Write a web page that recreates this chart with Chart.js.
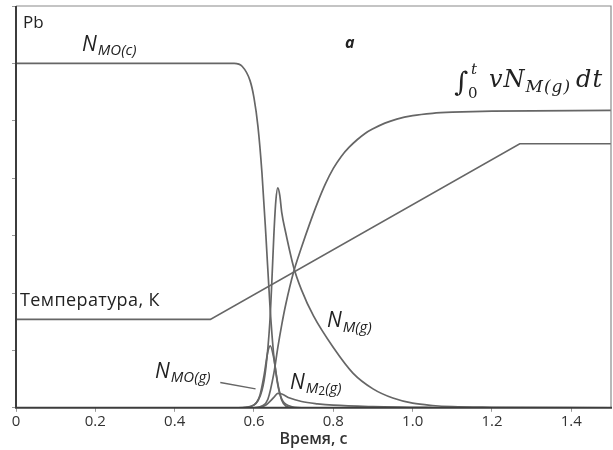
<!DOCTYPE html>
<html>
<head>
<meta charset="utf-8">
<script src="https://cdn.jsdelivr.net/npm/chart.js@4"></script>
<style>
  html, body { margin: 0; padding: 0; background: #fff; }
  canvas { display: block; }
</style>
</head>
<body>
<canvas id="pbChart" width="613" height="450"></canvas>
<script>
// values (time in s, y in arbitrary units)
const moCondT   = [0, 0.50, 0.55, 0.57, 0.59, 0.60, 0.61, 0.62, 0.63, 0.64, 0.65, 0.66, 0.67, 0.69, 0.72, 1.5];
const moCondY   = [6.0, 6.0, 6.0, 5.95, 5.7, 5.4, 4.9, 4.1, 3.0, 1.8, 0.9, 0.4, 0.15, 0.03, 0, 0];

const mGasT     = [0, 0.56, 0.60, 0.62, 0.63, 0.64, 0.645, 0.65, 0.655, 0.66, 0.665, 0.67, 0.68, 0.70, 0.72, 0.75, 0.80, 0.85, 0.90, 0.95, 1.0, 1.05, 1.1, 1.2, 1.5];
const mGasY     = [0, 0, 0.05, 0.3, 0.7, 1.5, 2.2, 3.0, 3.6, 3.83, 3.7, 3.4, 3.05, 2.45, 2.05, 1.6, 1.05, 0.6, 0.33, 0.17, 0.08, 0.04, 0.02, 0.01, 0];

const moGasT    = [0, 0.57, 0.60, 0.615, 0.625, 0.635, 0.641, 0.65, 0.66, 0.67, 0.68, 0.70, 1.5];
const moGasY    = [0, 0, 0.05, 0.22, 0.55, 0.98, 1.08, 0.86, 0.42, 0.13, 0.03, 0, 0];

const m2GasT    = [0, 0.60, 0.63, 0.65, 0.66, 0.67, 0.69, 0.72, 0.76, 0.80, 0.90, 1.0, 1.1, 1.5];
const m2GasY    = [0, 0, 0.05, 0.18, 0.25, 0.24, 0.17, 0.11, 0.07, 0.045, 0.02, 0.01, 0, 0];

const integralT = [0, 0.60, 0.62, 0.635, 0.65, 0.66, 0.67, 0.68, 0.70, 0.72, 0.74, 0.76, 0.78, 0.80, 0.82, 0.84, 0.86, 0.88, 0.90, 0.93, 0.96, 1.0, 1.05, 1.1, 1.2, 1.5];
const integralY = [0, 0, 0.03, 0.15, 0.6, 1.05, 1.45, 1.8, 2.37, 2.8, 3.2, 3.57, 3.9, 4.17, 4.38, 4.54, 4.67, 4.78, 4.86, 4.96, 5.03, 5.09, 5.13, 5.15, 5.17, 5.18];

const tempT     = [0, 0.49, 1.27, 1.5];
const tempY     = [1.54, 1.54, 4.6, 4.6];

// pointer from the N_MO(g) label to its curve
const leaderT   = [0.515, 0.604];
const leaderY   = [0.44, 0.33];

const xTicks = [0, 0.2, 0.4, 0.6, 0.8, 1.0, 1.2, 1.4];

const lineColor = '#666666';

function pts(xs, ys) {
  return xs.map((x, i) => ({ x: x, y: ys[i] }));
}

function series(xs, ys, smooth) {
  return {
    data: pts(xs, ys),
    borderColor: lineColor,
    borderWidth: 1.7,
    pointRadius: 0,
    fill: false,
    tension: 0,
    cubicInterpolationMode: smooth ? 'monotone' : 'default'
  };
}

// draws text pieces one after another: [text, font, dy, gap]
function drawRun(ctx, x, y, parts) {
  ctx.textBaseline = 'alphabetic';
  ctx.textAlign = 'left';
  parts.forEach(p => {
    ctx.font = p[1];
    ctx.fillText(p[0], x, y + (p[2] || 0));
    x += ctx.measureText(p[0]).width + (p[3] || 0);
  });
}

const labelsPlugin = {
  id: 'labelsPlugin',
  afterDatasetsDraw(chart) {
    const ctx = chart.ctx;
    const a = chart.chartArea;
    const xs = chart.scales.x, ys = chart.scales.y;
    ctx.save();

    // frame
    ctx.strokeStyle = '#8a8a8a';
    ctx.lineWidth = 1.2;
    ctx.beginPath();
    ctx.moveTo(a.left, a.top);
    ctx.lineTo(a.right, a.top);
    ctx.lineTo(a.right, a.bottom);
    ctx.stroke();
    ctx.strokeStyle = '#3c3c3c';
    ctx.lineWidth = 2;
    ctx.beginPath();
    ctx.moveTo(a.left, a.top);
    ctx.lineTo(a.left, a.bottom);
    ctx.lineTo(a.right + 1, a.bottom);
    ctx.stroke();

    // leader line
    ctx.strokeStyle = lineColor;
    ctx.lineWidth = 1.4;
    ctx.beginPath();
    ctx.moveTo(xs.getPixelForValue(leaderT[0]), ys.getPixelForValue(leaderY[0]));
    ctx.lineTo(xs.getPixelForValue(leaderT[1]), ys.getPixelForValue(leaderY[1]));
    ctx.stroke();

    ctx.fillStyle = '#222';
    const sans = '"Open Sans", "Liberation Sans", sans-serif';
    const big = 'italic 21px ' + sans;
    const sub = 'italic 15px ' + sans;

    drawRun(ctx, 23, 28, [['Pb', '17px ' + sans]]);
    drawRun(ctx, 345, 48, [['a', 'bold italic 16px ' + sans]]);
    drawRun(ctx, 82, 51, [['N', big, 0, 1], ['MO(c)', sub, 4]]);
    ctx.letterSpacing = '0.4px';
    drawRun(ctx, 20, 306, [['Температура, К', '18px ' + sans]]);
    ctx.letterSpacing = '0px';
    drawRun(ctx, 327, 327, [['N', big, 0, 1], ['M(g)', sub, 5]]);
    drawRun(ctx, 155, 378, [['N', big, 0, 1], ['MO(g)', sub, 4]]);
    drawRun(ctx, 290, 389, [['N', big, 0, 1], ['M', sub, 4], ['2', '12px ' + sans, 6], ['(g)', sub, 4]]);

    // integral label
    const serif = '"DejaVu Serif", "Liberation Serif", serif';
    ctx.font = '27px ' + serif;
    ctx.fillText('∫', 454, 91);
    ctx.font = 'italic 15px ' + serif;
    ctx.fillText('t', 471, 74);
    ctx.font = '15px ' + serif;
    ctx.fillText('0', 468, 98);
    ctx.letterSpacing = '1px';
    drawRun(ctx, 489, 87, [['vN', 'italic 24px ' + serif, 0, 0], ['M(g)', 'italic 17px ' + serif, 5, 5], ['dt', 'italic 24px ' + serif]]);
    ctx.letterSpacing = '0px';

    ctx.restore();
  }
};

const ctx = document.getElementById('pbChart').getContext('2d');

new Chart(ctx, {
  type: 'line',
  data: {
    datasets: [
      series(moCondT, moCondY, true),
      series(mGasT, mGasY, true),
      series(moGasT, moGasY, true),
      series(m2GasT, m2GasY, true),
      series(integralT, integralY, true),
      series(tempT, tempY, false)
    ]
  },
  options: {
    responsive: false,
    animation: false,
    layout: { padding: { left: 12, right: 2, top: 6, bottom: 0 } },
    plugins: {
      legend: { display: false },
      tooltip: { enabled: false },
      title: { display: false }
    },
    scales: {
      x: {
        type: 'linear',
        min: 0,
        max: 1.5,
        afterBuildTicks: axis => {
          axis.ticks = xTicks.map(v => ({ value: v }));
        },
        grid: { drawOnChartArea: false, drawTicks: true, tickLength: 4, color: '#999' },
        border: { display: false },
        ticks: {
          color: '#333',
          font: { family: '"Open Sans", "Liberation Sans", sans-serif', size: 15 },
          padding: 1,
          maxRotation: 0
        },
        title: {
          display: true,
          text: 'Время, с',
          color: '#333',
          font: { family: '"Open Sans", "Liberation Sans", sans-serif', size: 16, weight: '600' },
          padding: { top: -2, bottom: 1 }
        }
      },
      y: {
        min: 0,
        max: 7,
        ticks: { display: false, stepSize: 1 },
        grid: { drawOnChartArea: false, drawTicks: true, tickLength: 4, color: '#999' },
        border: { display: false }
      }
    }
  },
  plugins: [labelsPlugin]
});
</script>
</body>
</html>
